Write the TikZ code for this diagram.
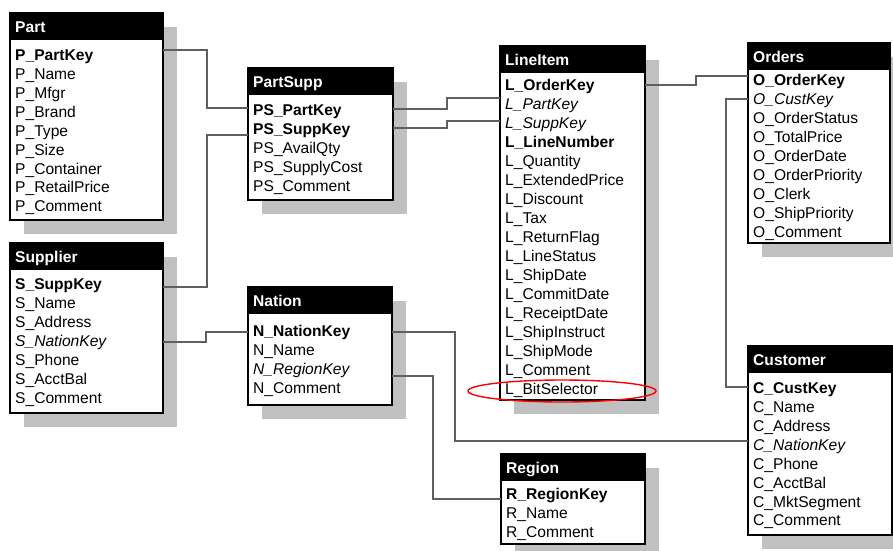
\documentclass[tikz,border=0pt]{standalone}
\usepackage{fontspec}
\setmainfont{Liberation Sans}
\definecolor{shadowgray}{RGB}{192,192,192}
\definecolor{linegray}{RGB}{95,95,95}
\tikzset{
  tbox/.style={draw=black, line width=1.1pt, fill=white, inner sep=0pt, outer sep=0pt, anchor=north west},
  hdrtxt/.style={anchor=base west, inner sep=0pt, text=white, font=\fontsize{15.6}{18}\selectfont\bfseries},
  plainrow/.style={anchor=base west, inner sep=0pt, font=\fontsize{15.6}{18}\selectfont},
  keyrow/.style={anchor=base west, inner sep=0pt, font=\fontsize{15.6}{18}\selectfont\bfseries},
  fkrow/.style={anchor=base west, inner sep=0pt, font=\fontsize{15.6}{18}\selectfont\itshape},
  conn/.style={draw=linegray, line width=1.6pt},
  shadowbox/.style={fill=shadowgray},
}
% #1 name, #2 left, #3 top, #4 width, #5 height, #6 title, #7 first row centre, #8 pitch, #9 rows
\newcommand\entity[9]{%
  \path[shadowbox] (#2+14,#3+14) rectangle ++(#4,#5);
  \node[tbox, minimum width=#4pt, minimum height=#5pt] (#1) at (#2,#3) {};
  \fill[black] (#1.north west) rectangle ([yshift=-27pt]#1.north east);
  \node[hdrtxt] (#1-title) at (#2+5,#3+19.1) {#6};
  \foreach \st/\tx [count=\i] in {#9}
    \node[\st] (#1-\i) at (#2+5,#7+5.6+\i*#8-#8) {\tx};
}
\begin{document}
\begin{tikzpicture}[x=1pt,y=-1pt]
\useasboundingbox (0,0) rectangle (893,550);

\entity{part}{10}{13}{153}{207}{Part}{55}{18.9}{keyrow/P\_PartKey, plainrow/P\_Name, plainrow/P\_Mfgr, plainrow/P\_Brand, plainrow/P\_Type, plainrow/P\_Size, plainrow/P\_Container, plainrow/P\_RetailPrice, plainrow/P\_Comment}

\entity{supplier}{10}{243}{153}{170}{Supplier}{284}{19}{keyrow/S\_SuppKey, plainrow/S\_Name, plainrow/S\_Address, fkrow/S\_NationKey, plainrow/S\_Phone, plainrow/S\_AcctBal, plainrow/S\_Comment}

\entity{partsupp}{248}{68}{145}{132}{PartSupp}{110}{18.9}{keyrow/PS\_PartKey, keyrow/PS\_SuppKey, plainrow/PS\_AvailQty, plainrow/PS\_SupplyCost, plainrow/PS\_Comment}

\entity{nation}{248}{287}{144}{118}{Nation}{331}{18.8}{keyrow/N\_NationKey, plainrow/N\_Name, fkrow/N\_RegionKey, plainrow/N\_Comment}

\entity{lineitem}{500}{46}{145}{354}{LineItem}{85}{19}{keyrow/L\_OrderKey, fkrow/L\_PartKey, fkrow/L\_SuppKey, keyrow/L\_LineNumber, plainrow/L\_Quantity, plainrow/L\_ExtendedPrice, plainrow/L\_Discount, plainrow/L\_Tax, plainrow/L\_ReturnFlag, plainrow/L\_LineStatus, plainrow/L\_ShipDate, plainrow/L\_CommitDate, plainrow/L\_ReceiptDate, plainrow/L\_ShipInstruct, plainrow/L\_ShipMode, plainrow/L\_Comment, plainrow/L\_BitSelector}

\entity{orders}{748}{43}{142}{200}{Orders}{80}{19}{keyrow/O\_OrderKey, fkrow/O\_CustKey, plainrow/O\_OrderStatus, plainrow/O\_TotalPrice, plainrow/O\_OrderDate, plainrow/O\_OrderPriority, plainrow/O\_Clerk, plainrow/O\_ShipPriority, plainrow/O\_Comment}

\entity{customer}{748}{346}{144}{189}{Customer}{388}{18.9}{keyrow/C\_CustKey, plainrow/C\_Name, plainrow/C\_Address, fkrow/C\_NationKey, plainrow/C\_Phone, plainrow/C\_AcctBal, plainrow/C\_MktSegment, plainrow/C\_Comment}

\entity{region}{501}{454}{144}{90}{Region}{494}{19}{keyrow/R\_RegionKey, plainrow/R\_Name, plainrow/R\_Comment}

% connectors
\draw[conn] (part.east |- 0,50) -| (207,108) -- (partsupp.west |- 0,108);
\draw[conn] (supplier.east |- 0,287) -| (207,135) -- (partsupp.west |- 0,135);
\draw[conn] (supplier.east |- 0,342) -| (206,332) -- (nation.west |- 0,332);
\draw[conn] (partsupp.east |- 0,109) -| (447,98) -- (lineitem.west |- 0,98);
\draw[conn] (partsupp.east |- 0,128) -| (447,121) -- (lineitem.west |- 0,121);
\draw[conn] (lineitem.east |- 0,85) -| (696,76) -- (orders.west |- 0,76);
\draw[conn] (orders.west |- 0,99) -| (726,387) -- (customer.west |- 0,387);
\draw[conn] (nation.east |- 0,332) -| (455,441) -- (customer.west |- 0,441);
\draw[conn] (nation.east |- 0,376) -| (433,499) -- (region.west |- 0,499);

% highlight
\draw[red, line width=1.4pt] (562,391) ellipse [x radius=94, y radius=11];
\end{tikzpicture}
\end{document}
